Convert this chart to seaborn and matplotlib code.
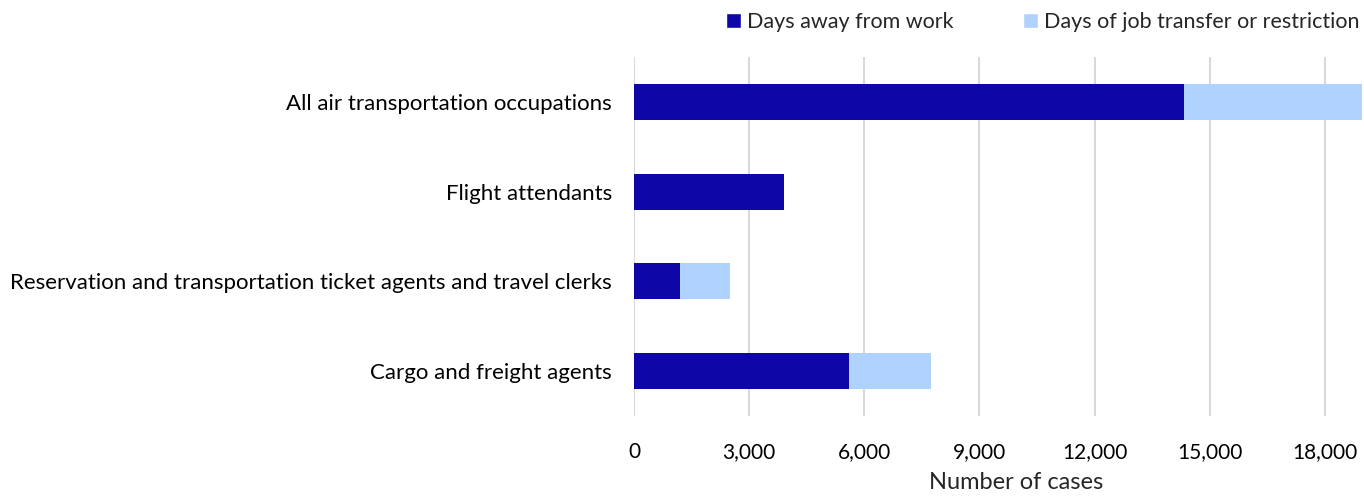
import pandas as pd
import seaborn as sns
import matplotlib.pyplot as plt
from matplotlib.patches import Patch

# dados
ocupacoes = [
    "All air transportation occupations",
    "Flight attendants",
    "Reservation and transportation ticket agents and travel clerks",
    "Cargo and freight agents",
]
dias_afastado = [14320, 3900, 1200, 5600]
dias_restricao = [4650, 0, 1290, 2130]

cor_escura = "#0f06a8"
cor_clara = "#b0d2ff"

df = pd.DataFrame({
    "ocupacao": ocupacoes,
    "afastado": dias_afastado,
    "restricao": dias_restricao,
})
df["total"] = df["afastado"] + df["restricao"]

sns.set_theme(style="white")
plt.rcParams["font.family"] = ["Lato", "DejaVu Sans"]

fig = plt.figure(figsize=(13.64, 4.96), dpi=100)
ax = fig.add_axes([634 / 1364, 1 - 416 / 496, (1364 - 634) / 1364, (416 - 57) / 496])

# barra total (clara) por baixo, barra escura por cima
sns.barplot(data=df, x="total", y="ocupacao", color=cor_clara, width=0.4,
            saturation=1, linewidth=0, ax=ax, zorder=2)
sns.barplot(data=df, x="afastado", y="ocupacao", color=cor_escura, width=0.4,
            saturation=1, linewidth=0, ax=ax, zorder=3)

ax.set_xlim(0, 19020)
ax.set_xticks(range(0, 18001, 3000))
ax.set_xticklabels([f"{v:,}" for v in range(0, 18001, 3000)])
ax.grid(axis="x", color="#d9d9d9", linewidth=1.5, zorder=0)
ax.set_axisbelow(True)
sns.despine(ax=ax, left=True, bottom=True, top=True, right=True)
ax.tick_params(axis="both", length=0, colors="black")
ax.tick_params(axis="x", pad=19, labelsize=15)
ax.tick_params(axis="y", pad=16, labelsize=16)

ax.set_ylabel("")
ax.set_xlabel("Number of cases", fontsize=17)
ax.xaxis.set_label_coords((1016 - 634) / (1364 - 634), -0.155)

legenda = [
    Patch(facecolor=cor_escura, label="Days away from work"),
    Patch(facecolor=cor_clara, label="Days of job transfer or restriction"),
]
fig.legend(handles=legenda, loc="center right", bbox_to_anchor=(1360 / 1364, 1 - 22 / 496),
           ncol=2, frameon=False, fontsize=15.5, handlelength=0.7, handleheight=0.7,
           handletextpad=0.3, columnspacing=3.2, borderpad=0, borderaxespad=0)

fig.savefig("out.png", dpi=100)
